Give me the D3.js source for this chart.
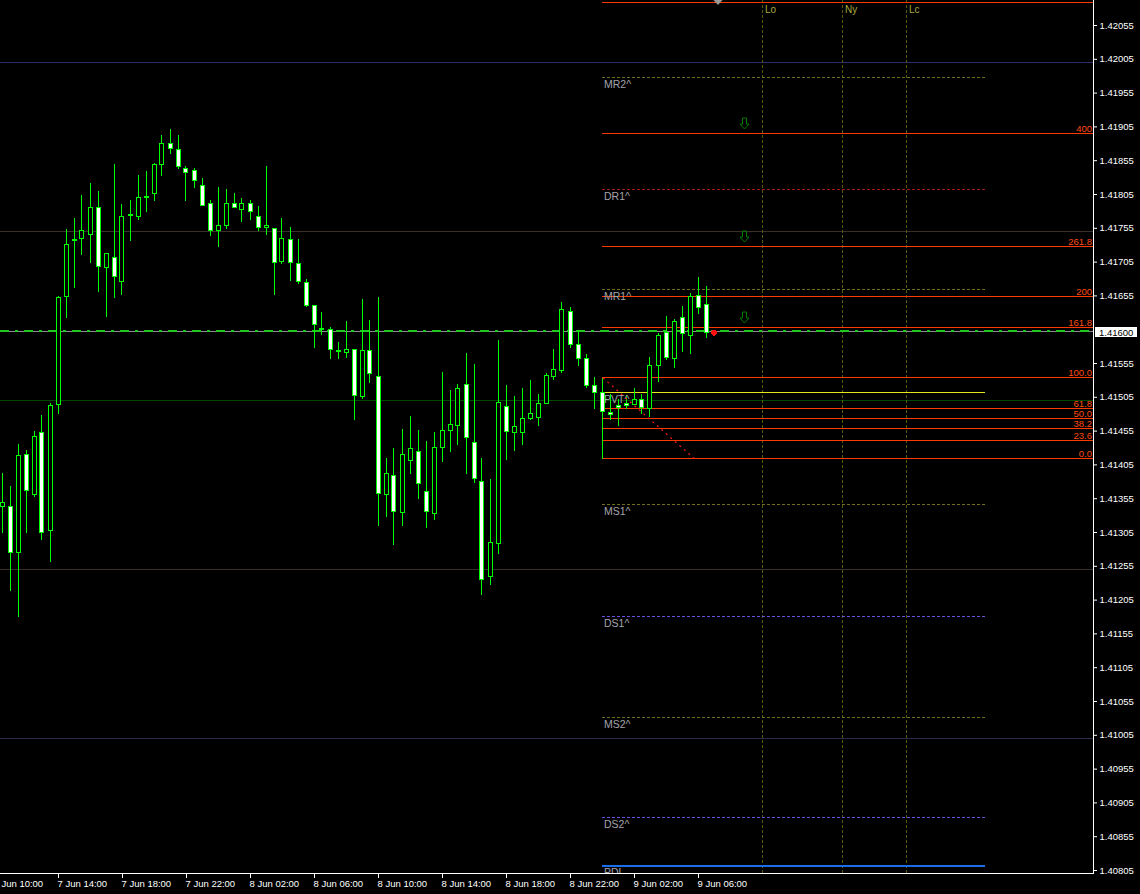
<!DOCTYPE html>
<html><head><meta charset="utf-8">
<script src="https://cdn.jsdelivr.net/npm/d3@7/dist/d3.min.js"></script>
<style>html,body{margin:0;padding:0;background:#000;overflow:hidden}svg{display:block}</style>
</head><body><svg id="c" width="1140" height="894"></svg>
<script>
// ---------- data (M30 candles, 7 Jun 10:30 .. 9 Jun 06:30) ----------
const opens  = [1.41342,1.41343,1.41275,1.41420,1.41361,1.41452,1.41307,1.41493,1.41654,1.41737,
1.41739,1.41745,1.41785,1.41697,1.41711,1.41675,1.41773,1.41771,1.41801,1.41805,
1.41849,1.41880,1.41871,1.41843,1.41840,1.41818,1.41791,1.41751,1.41759,1.41791,
1.41782,1.41791,1.41772,1.41756,1.41754,1.41705,1.41738,1.41702,1.41674,1.41640,
1.41606,1.41605,1.41573,1.41571,1.41575,1.41505,1.41574,1.41535,1.41361,1.41389,
1.41334,1.41411,1.41424,1.41365,1.41333,1.41430,1.41455,1.41463,1.41523,1.41438,
1.41380,1.41239,1.41288,1.41491,1.41452,1.41452,1.41473,1.41475,1.41495,1.41535,
1.41544,1.41631,1.41583,1.41562,1.41522,1.41512,1.41482,1.41492,1.41495,1.41493,
1.41501,1.41487,1.41552,1.41600,1.41561,1.41623,1.41595,1.41655,1.41642];
const highs  = [1.41392,1.41373,1.41435,1.41426,1.41453,1.41478,1.41495,1.41653,1.41752,1.41769,
1.41803,1.41820,1.41809,1.41717,1.41848,1.41789,1.41795,1.41832,1.41839,1.41850,
1.41891,1.41900,1.41892,1.41846,1.41843,1.41828,1.41795,1.41815,1.41811,1.41806,
1.41798,1.41795,1.41786,1.41845,1.41754,1.41769,1.41755,1.41738,1.41678,1.41640,
1.41630,1.41608,1.41586,1.41617,1.41575,1.41649,1.41618,1.41652,1.41414,1.41429,
1.41457,1.41476,1.41455,1.41439,1.41452,1.41541,1.41515,1.41523,1.41569,1.41553,
1.41414,1.41383,1.41589,1.41522,1.41506,1.41518,1.41529,1.41509,1.41540,1.41575,
1.41645,1.41637,1.41603,1.41568,1.41534,1.41515,1.41509,1.41501,1.41506,1.41518,
1.41509,1.41563,1.41598,1.41624,1.41619,1.41638,1.41658,1.41682,1.41668];
const lows   = [1.41304,1.41218,1.41180,1.41304,1.41357,1.41294,1.41261,1.41481,1.41622,1.41666,
1.41715,1.41704,1.41661,1.41624,1.41652,1.41656,1.41736,1.41767,1.41779,1.41795,
1.41832,1.41865,1.41842,1.41795,1.41814,1.41788,1.41743,1.41728,1.41754,1.41785,
1.41765,1.41767,1.41751,1.41745,1.41657,1.41702,1.41677,1.41673,1.41638,1.41578,
1.41597,1.41561,1.41561,1.41563,1.41471,1.41502,1.41526,1.41314,1.41328,1.41286,
1.41314,1.41391,1.41354,1.41311,1.41323,1.41409,1.41424,1.41434,1.41391,1.41378,
1.41212,1.41228,1.41273,1.41412,1.41425,1.41434,1.41471,1.41462,1.41495,1.41530,
1.41541,1.41578,1.41552,1.41519,1.41488,1.41481,1.41472,1.41463,1.41488,1.41493,
1.41480,1.41476,1.41527,1.41560,1.41548,1.41572,1.41569,1.41628,1.41592];
const closes = [1.41349,1.41275,1.41418,1.41367,1.41447,1.41305,1.41492,1.41652,1.41731,1.41738,
1.41751,1.41785,1.41698,1.41717,1.41683,1.41772,1.41774,1.41800,1.41800,1.41849,
1.41880,1.41873,1.41846,1.41837,1.41825,1.41788,1.41751,1.41759,1.41791,1.41785,
1.41791,1.41779,1.41756,1.41759,1.41704,1.41739,1.41704,1.41676,1.41640,1.41612,
1.41606,1.41575,1.41573,1.41575,1.41507,1.41574,1.41540,1.41362,1.41392,1.41336,
1.41420,1.41429,1.41377,1.41336,1.41430,1.41455,1.41464,1.41518,1.41445,1.41384,
1.41235,1.41290,1.41497,1.41454,1.41461,1.41473,1.41481,1.41495,1.41537,1.41546,
1.41634,1.41583,1.41562,1.41521,1.41512,1.41483,1.41479,1.41489,1.41492,1.41501,
1.41489,1.41552,1.41595,1.41563,1.41616,1.41598,1.41654,1.41637,1.41600];

const timeTickLabels = ["7 Jun 10:00","7 Jun 14:00","7 Jun 18:00","7 Jun 22:00","8 Jun 02:00","8 Jun 06:00",
                        "8 Jun 10:00","8 Jun 14:00","8 Jun 18:00","8 Jun 22:00","9 Jun 02:00","9 Jun 06:00"];
const timeTickIndex  = [-1,7,15,23,31,39,47,55,63,71,79,87];
const priceTicks = [1.42055,1.42005,1.41955,1.41905,1.41855,1.41805,1.41755,1.41705,1.41655,
                    1.41555,1.41505,1.41455,1.41405,1.41355,1.41305,1.41255,1.41205,1.41155,
                    1.41105,1.41055,1.41005,1.40955,1.40905,1.40855,1.40805];
const roundLevels = [1.42000,1.41750,1.41500,1.41250,1.41000];
const pivotNames  = ["MR2^","DR1^","MR1^","PVT^","MS1^","DS1^","MS2^","DS2^","PDL"];
const pivotPrices = [1.41978,1.41812,1.41663,1.41512,1.41346,1.41180,1.41031,1.40882,1.40811];
const fibLabels = ["0.0","23.6","38.2","50.0","61.8","100.0","161.8","200","261.8","400","561.8"];
const fibPrices = [1.41413,1.41441,1.41458,1.41473,1.41487,1.41533,1.41607,1.41653,1.41728,1.41894,1.42088];
const sessionNames = ["Lo","Ny","Lc"];
const sessionIndex = [95,105,113];
const signalPrices = [1.41894,1.41728,1.41607];
const signalIndex = 92.8;
const bidPrice = 1.41600;
const askMarkPrice = 1.41602;
const levelStartIndex = 75, pivotEndIndex = 122.9, trendEndIndex = 86.6;

// ---------- layout ----------
const W = 1140, H = 894, plotR = 1093, plotB = 873;
const svg = d3.select("#c");
svg.append("rect").attr("width",W).attr("height",H).attr("fill","#000");
const x = d3.scaleLinear().domain([0,88]).range([2,706]);
const y = d3.scaleLinear().domain([1.42055,1.40805]).range([25,870]);
const snap = v => Math.floor(v) + 0.5;
const FONT = "'Liberation Sans', Arial, sans-serif";

svg.append("defs").append("clipPath").attr("id","plot")
  .append("rect").attr("x",0).attr("y",0).attr("width",plotR).attr("height",plotB);
const g = svg.append("g").attr("clip-path","url(#plot)").attr("shape-rendering","crispEdges");

// round-number levels
const roundColors = ["#2c2c6a","#3a302a","#004a00","#3a302a","#2e2a4c"];
g.selectAll(".rl").data(roundLevels).join("line")
  .attr("x1",0).attr("x2",plotR).attr("y1",d=>snap(y(d))).attr("y2",d=>snap(y(d)))
  .attr("stroke",(d,i)=>roundColors[i]).attr("stroke-width",1);

// session vertical lines
g.selectAll(".sl").data(sessionIndex).join("line")
  .attr("x1",d=>snap(x(d))).attr("x2",d=>snap(x(d))).attr("y1",0).attr("y2",plotB)
  .attr("stroke","#5a5a0a").attr("stroke-dasharray","3,2");
g.selectAll(".st").data(sessionNames).join("text")
  .attr("x",(d,i)=>x(sessionIndex[i])+3).attr("y",12.5).text(d=>d)
  .attr("fill","#a8a838").attr("font-family",FONT).attr("font-size","10px");

// pivot lines
const pivotStyle = {
  "MR2^":{c:"#6e6e1e",d:"3,2",w:1}, "DR1^":{c:"#a41818",d:"3,2",w:1}, "MR1^":{c:"#6e6e1e",d:"3,2",w:1},
  "PVT^":{c:"#e6e61a",d:null,w:1}, "MS1^":{c:"#6e6e1e",d:"3,2",w:1}, "DS1^":{c:"#6650dc",d:"3,2",w:1},
  "MS2^":{c:"#6e6e1e",d:"3,2",w:1}, "DS2^":{c:"#6650dc",d:"3,2",w:1}, "PDL":{c:"#1a6ee6",d:null,w:2}
};
g.selectAll(".pv").data(pivotNames).join("line")
  .attr("x1",x(levelStartIndex)).attr("x2",x(pivotEndIndex))
  .attr("y1",(d,i)=>pivotStyle[d].w===2?Math.round(y(pivotPrices[i])):snap(y(pivotPrices[i])))
  .attr("y2",(d,i)=>pivotStyle[d].w===2?Math.round(y(pivotPrices[i])):snap(y(pivotPrices[i])))
  .attr("stroke",d=>pivotStyle[d].c).attr("stroke-width",d=>pivotStyle[d].w)
  .attr("stroke-dasharray",d=>pivotStyle[d].d);

// fib lines
g.selectAll(".fb").data(fibPrices).join("line")
  .attr("x1",x(levelStartIndex)).attr("x2",plotR)
  .attr("y1",d=>snap(y(d))).attr("y2",d=>snap(y(d)))
  .attr("stroke","#ff3a00").attr("stroke-width",1.3);
// labels only where they fit inside the plot (the top level's label is off-screen in the reference)
g.selectAll(".ft").data(fibLabels.filter((d,i)=>y(fibPrices[i])>12)).join("text")
  .attr("x",1092).attr("y",d=>Math.floor(y(fibPrices[fibLabels.indexOf(d)]))-1.5).text(d=>d)
  .attr("text-anchor","end").attr("fill","#ff4a10").attr("font-family",FONT).attr("font-size","9.5px");
// fib box vertical
g.append("line").attr("x1",snap(x(levelStartIndex))).attr("x2",snap(x(levelStartIndex)))
  .attr("y1",snap(y(fibPrices[5]))).attr("y2",snap(y(fibPrices[0])))
  .attr("stroke","#00ff00").attr("stroke-width",1);

// pivot labels
g.selectAll(".pt").data(pivotNames).join("text")
  .attr("x",x(levelStartIndex)+2).attr("y",(d,i)=>Math.floor(y(pivotPrices[i]))+10.5).text(d=>d)
  .attr("fill","#a4a4ac").attr("font-family",FONT).attr("font-size","10.5px");

// bid / ask lines
g.append("line").attr("x1",0).attr("x2",plotR).attr("y1",snap(y(bidPrice))-1).attr("y2",snap(y(bidPrice))-1)
  .attr("stroke","#8c8c8c").attr("stroke-width",1);
g.append("line").attr("x1",0).attr("x2",plotR).attr("y1",Math.floor(y(askMarkPrice))).attr("y2",Math.floor(y(askMarkPrice)))
  .attr("stroke","#22c822").attr("stroke-width",2).attr("stroke-dasharray","9,6,3,6");

// candles
const idx = d3.range(opens.length);
const cg = g.append("g");
cg.selectAll(".wk").data(idx).join("line")
  .attr("x1",i=>Math.floor(x(i))+0.5).attr("x2",i=>Math.floor(x(i))+0.5)
  .attr("y1",i=>Math.floor(y(highs[i]))).attr("y2",i=>Math.floor(y(lows[i]))+1)
  .attr("stroke","#00ff00").attr("stroke-width",1);
cg.selectAll(".bd").data(idx).join("rect")
  .attr("x",i=>Math.floor(x(i))-1.5).attr("width",4)
  .attr("y",i=>Math.floor(y(Math.max(opens[i],closes[i])))+0.5)
  .attr("height",i=>Math.max(1,Math.floor(y(Math.min(opens[i],closes[i])))-Math.floor(y(Math.max(opens[i],closes[i])))))
  .attr("fill",i=>closes[i]>opens[i]?"#000":"#fff")
  .attr("stroke","#00ff00").attr("stroke-width",1);

// fib trend line (red dotted)
g.append("line").attr("x1",x(levelStartIndex)+1).attr("y1",y(fibPrices[5]))
  .attr("x2",x(trendEndIndex)).attr("y2",y(fibPrices[0]))
  .attr("stroke","#ff1a1a").attr("stroke-width",1.2).attr("stroke-dasharray","2,4")
  .attr("shape-rendering","auto");

// signal arrows (hollow down arrows)
g.selectAll(".ar").data(signalPrices).join("path")
  .attr("transform",d=>`translate(${Math.floor(x(signalIndex))+0.5},${Math.floor(y(d))-3.5})`)
  .attr("d","M-4.5,-5.5 L-2,-5.5 L-2,-11.5 L2,-11.5 L2,-5.5 L4.5,-5.5 L0,-0.5 Z")
  .attr("fill","none").attr("stroke","#007a00").attr("stroke-width",1).attr("shape-rendering","auto");

// current price dot
g.append("circle").attr("cx",x(89)).attr("cy",y(bidPrice)).attr("r",3).attr("fill","#ff1010");

// chart shift marker
svg.append("path").attr("d",`M${x(89.5)-4.5},0 L${x(89.5)+4.5},0 L${x(89.5)},5 Z`).attr("fill","#9a9a9a");

// ---------- axes ----------
const yAxis = d3.axisRight(y).tickValues(priceTicks).tickFormat(d3.format(".5f")).tickSize(4);
const ya = svg.append("g").attr("transform",`translate(${plotR},0)`).call(yAxis);
ya.select(".domain").remove();
ya.selectAll("line").attr("stroke","#fff");
ya.selectAll("text").attr("fill","#fff").attr("font-family",FONT).attr("font-size","9.5px").attr("x",6.5);

const xAxis = d3.axisBottom(x).tickValues(timeTickIndex).tickFormat((d,i)=>timeTickLabels[i]).tickSize(5);
const xa = svg.append("g").attr("transform",`translate(0,${plotB})`).call(xAxis);
xa.select(".domain").remove();
xa.selectAll("line").attr("stroke","#fff");
xa.selectAll("text").attr("fill","#fff").attr("font-family",FONT).attr("font-size","9.5px")
  .attr("text-anchor","start").attr("x",-1).attr("y",5).attr("dy","0.9em");

svg.append("line").attr("x1",plotR+0.5).attr("x2",plotR+0.5).attr("y1",0).attr("y2",plotB+1).attr("stroke","#fff");
svg.append("line").attr("x1",0).attr("x2",plotR+1).attr("y1",plotB+0.5).attr("y2",plotB+0.5).attr("stroke","#fff");

// bid label box
svg.append("rect").attr("x",1095).attr("y",Math.floor(y(bidPrice))-5).attr("width",42).attr("height",10).attr("fill","#fff");
svg.append("text").attr("x",1099).attr("y",Math.floor(y(bidPrice))+3.5).text(d3.format(".5f")(bidPrice))
  .attr("fill","#000").attr("font-family",FONT).attr("font-size","9.5px");
</script></body></html>
